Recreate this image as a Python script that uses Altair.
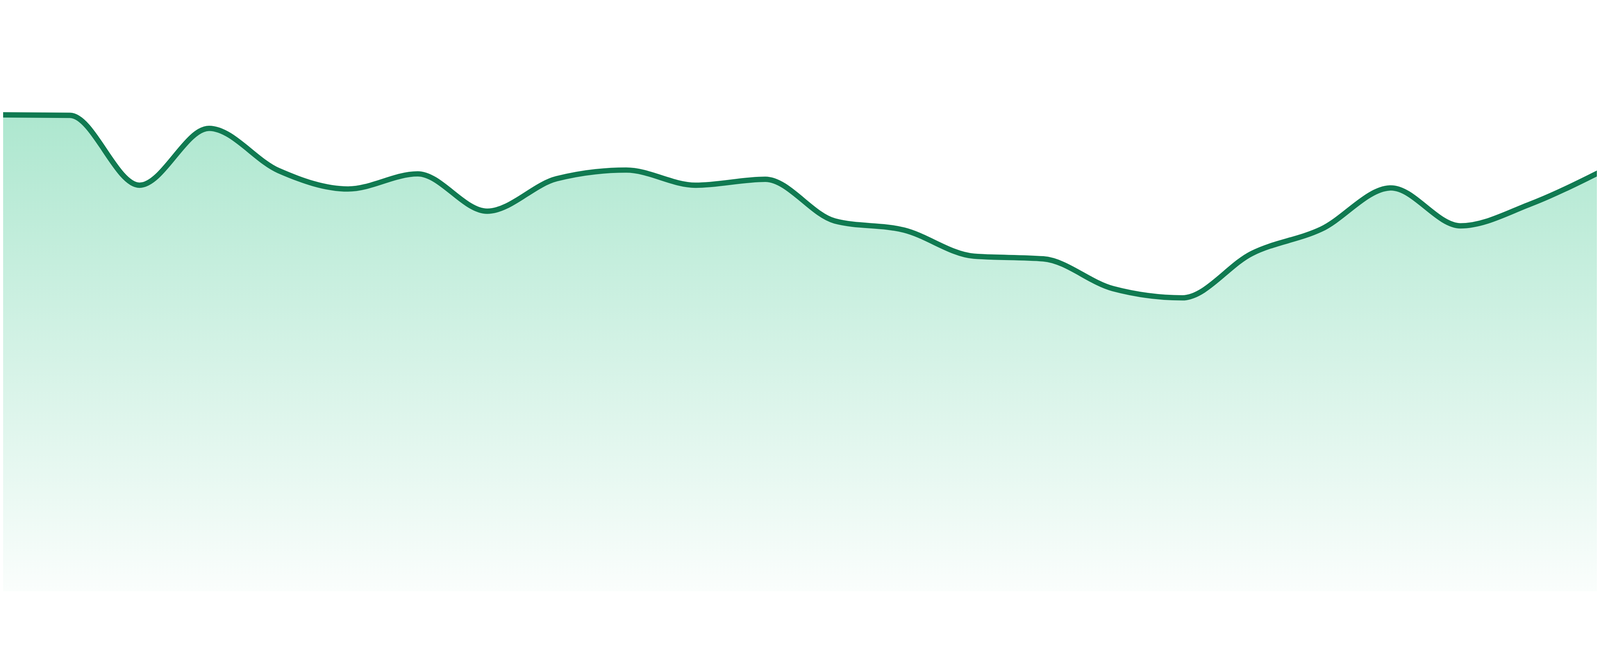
import altair as alt
import pandas as pd

# Data (index along x, value on a 0-100 scale)
idx = list(range(24))
values = [88.0, 87.9, 75.0, 85.5, 77.7, 74.3, 77.1, 70.2, 76.2, 77.8, 75.0, 76.1,
          68.4, 66.7, 61.9, 61.4, 55.9, 54.2, 62.4, 66.9, 74.5, 67.5, 71.5, 77.4]

df = pd.DataFrame({"i": idx, "v": values})

W, H = 4784, 1626
span = 23 * W / 4800
d0 = 8 * span / W
xs = alt.Scale(domain=[d0, d0 + span], nice=False, zero=False)
ys = alt.Scale(domain=[0, 100], nice=False)

base = alt.Chart(df).encode(
    x=alt.X("i:Q", scale=xs, axis=None),
    y=alt.Y("v:Q", scale=ys, axis=None),
)

area = base.mark_area(
    interpolate="monotone",
    clip=True,
    color=alt.Gradient(
        gradient="linear",
        stops=[
            alt.GradientStop(color="rgba(16,185,115,0.34)", offset=0),
            alt.GradientStop(color="rgba(16,185,115,0.02)", offset=1),
        ],
        x1=0, x2=0, y1=0, y2=1,
    ),
)

line = base.mark_line(
    interpolate="monotone",
    clip=True,
    color="#107a51",
    strokeWidth=16,
)

chart = (
    alt.layer(area, line)
    .properties(width=W, height=H, padding=0, autosize="none", background="white")
    .configure_view(stroke=None)
)

chart.save("out.html", embed_options={"renderer": "svg", "actions": False})
